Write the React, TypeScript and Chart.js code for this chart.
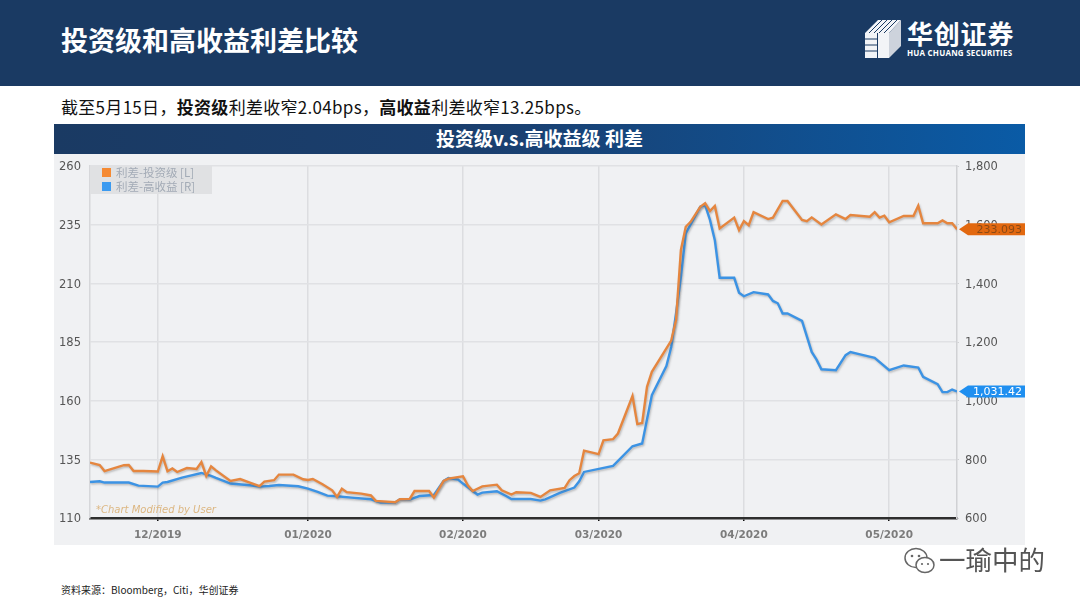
import React, { useEffect, useRef } from 'react';
import { Chart, registerables } from 'chart.js';

Chart.register(...registerables);

// x is calendar days since 2019-11-18
const tickDays = [14, 45, 77, 105, 135, 165];
const tickLabels = ['12/2019', '01/2020', '02/2020', '03/2020', '04/2020', '05/2020'];

const igDays = [0, 2, 3, 4, 7, 8, 9, 11, 14, 15, 16, 17, 18, 20, 22, 23, 24, 25, 26, 29, 31, 33, 35, 36, 38, 39, 42, 44, 45, 46, 48, 50, 51, 52, 53, 56, 58, 59, 63, 64, 66, 67, 70, 71, 73, 74, 77, 78, 79, 81, 84, 85, 87, 88, 91, 93, 95, 98, 99, 100, 101, 102, 105, 106, 108, 109, 112, 113, 114, 115, 116, 120, 121, 122, 123, 124, 126, 127, 128, 129, 130, 133, 134, 135, 136, 137, 140, 141, 143, 144, 147, 148, 149, 151, 154, 156, 157, 161, 162, 163, 164, 165, 168, 170, 171, 172, 175, 176, 177, 178, 179];
const igValues = [133.6, 132.6, 130.0, 130.6, 132.5, 132.6, 130.0, 130.0, 129.8, 136.3, 129.9, 131.1, 129.6, 131.3, 130.9, 133.8, 127.9, 132.0, 130.3, 125.8, 126.6, 125.1, 123.6, 125.5, 126.1, 128.5, 128.5, 126.5, 126.2, 126.6, 124.4, 121.8, 119.0, 122.5, 121.0, 120.4, 119.6, 117.3, 116.7, 118.0, 118.1, 121.5, 121.5, 118.7, 125.8, 126.8, 127.8, 123.9, 121.5, 123.5, 124.2, 121.8, 120.0, 121.0, 120.7, 119.0, 121.8, 122.8, 126.1, 127.9, 129.1, 138.7, 137.2, 143.1, 143.6, 146.0, 162.0, 150.0, 150.5, 165.9, 172.3, 185.6, 194.5, 224.2, 234.1, 236.2, 242.6, 244.1, 240.8, 243.0, 233.4, 238.0, 232.7, 236.5, 234.8, 240.3, 237.4, 238.0, 245.1, 245.1, 237.0, 236.5, 238.1, 235.1, 239.4, 237.4, 239.1, 238.4, 240.3, 238.0, 238.8, 236.0, 238.7, 238.7, 243.1, 235.6, 235.6, 236.8, 235.6, 235.6, 233.093];

const hyDays = [0, 2, 3, 8, 10, 14, 15, 16, 19, 23, 25, 26, 29, 33, 35, 37, 39, 43, 45, 47, 49, 51, 54, 58, 60, 63, 64, 66, 68, 71, 73, 74, 76, 77, 80, 81, 84, 86, 87, 91, 93, 94, 97, 100, 101, 102, 108, 112, 114, 116, 119, 120, 121, 122, 123, 126, 127, 128, 129, 130, 133, 134, 135, 137, 140, 141, 142, 143, 144, 147, 149, 150, 151, 154, 156, 157, 159, 162, 165, 168, 171, 172, 175, 176, 177, 178, 179];
const hyValues = [722.8, 725.2, 720.8, 720.8, 710.5, 707.1, 720.8, 722.8, 737.8, 753.5, 743.3, 736.5, 717.4, 711.6, 707.1, 709.2, 712.6, 708.2, 700.3, 688.7, 676.4, 674, 669.6, 663.8, 652.5, 652.5, 663.8, 662.8, 675, 678.5, 726.2, 736.5, 731, 717.4, 680, 686.7, 691, 674, 664.8, 664.8, 659.4, 663.8, 685.3, 703.7, 725, 757, 777.4, 844.6, 853.9, 1018.7, 1118, 1183, 1298, 1422, 1570, 1661, 1667, 1616, 1547, 1419, 1419, 1368, 1356, 1370, 1362, 1340, 1332, 1297, 1297, 1272, 1166, 1140, 1107, 1104, 1155, 1166, 1158, 1146, 1104, 1120, 1113, 1081, 1056, 1029, 1029, 1038, 1031.42];

const igLast = '233.093';
const hyLast = '1,031.42';

const ORANGE = '#e5863f';
const BLUE = '#3c93e4';
const AXIS_FONT = '"DejaVu Sans", sans-serif';
const CJK = '"Noto Sans CJK SC", sans-serif';

// page colour, legend box, soft line shadow, value tags on the right, watermark text
const decorations = {
  id: 'decorations',
  beforeDraw(chart: any) {
    const { ctx } = chart;
    ctx.save();
    ctx.fillStyle = '#f0f1f3';
    ctx.fillRect(0, 0, chart.width, chart.height);
    ctx.restore();
  },
  beforeDatasetsDraw(chart: any) {
    const { ctx, chartArea: a } = chart;
    ctx.save();
    ctx.fillStyle = '#e0e1e3';
    ctx.fillRect(a.left, a.top, 122, 28);
    ctx.font = '11.5px ' + CJK;
    ctx.textBaseline = 'middle';
    chart.data.datasets.forEach((ds: any, i: number) => {
      const y = a.top + 6.5 + i * 14;
      ctx.fillStyle = ds.backgroundColor;
      ctx.fillRect(a.left + 12, y - 4.5, 9, 9);
      ctx.fillStyle = '#a3abb6';
      ctx.fillText(ds.label, a.left + 26, y);
    });
    ctx.font = 'italic 10px ' + AXIS_FONT;
    ctx.fillStyle = '#dcb680';
    ctx.textBaseline = 'alphabetic';
    ctx.fillText('*Chart Modified by User', a.left + 6, a.bottom - 5);
    ctx.restore();
  },
  beforeDatasetDraw(chart: any) {
    const { ctx } = chart;
    ctx.save();
    ctx.shadowColor = 'rgba(90,90,90,0.35)';
    ctx.shadowBlur = 2;
    ctx.shadowOffsetX = 1;
    ctx.shadowOffsetY = 1.5;
  },
  afterDatasetDraw(chart: any) {
    chart.ctx.restore();
  },
  afterDraw(chart: any) {
    const { ctx, chartArea: a, scales } = chart;
    const tag = (y: number, text: string, fill: string, color: string) => {
      const x0 = a.right + 2;
      const xArrow = x0 + 9;
      const h = 6;
      ctx.save();
      ctx.fillStyle = fill;
      ctx.beginPath();
      ctx.moveTo(x0, y);
      ctx.lineTo(xArrow, y - h);
      ctx.lineTo(chart.width, y - h);
      ctx.lineTo(chart.width, y + h);
      ctx.lineTo(xArrow, y + h);
      ctx.closePath();
      ctx.fill();
      ctx.fillStyle = color;
      ctx.font = '11px ' + AXIS_FONT;
      ctx.textAlign = 'right';
      ctx.textBaseline = 'middle';
      ctx.fillText(text, chart.width - 3, y + 0.5);
      ctx.restore();
    };
    tag(scales.y.getPixelForValue(igValues[igValues.length - 1]), igLast, '#e2680f', '#8c4a14');
    tag(scales.y1.getPixelForValue(hyValues[hyValues.length - 1]), hyLast, '#1f8ff0', '#ffffff');
  },
};

function LineChart() {
  const canvasRef = useRef<HTMLCanvasElement>(null);

  useEffect(() => {
    if (!canvasRef.current) return;
    const chart = new Chart(canvasRef.current, {
      type: 'line',
      data: {
        datasets: [
          {
            label: '利差-投资级 [L]',
            data: igDays.map((d, i) => ({ x: d, y: igValues[i] })),
            borderColor: ORANGE,
            backgroundColor: '#f58a33',
            borderWidth: 2.4,
            pointRadius: 0,
            yAxisID: 'y',
          },
          {
            label: '利差-高收益 [R]',
            data: hyDays.map((d, i) => ({ x: d, y: hyValues[i] })),
            borderColor: BLUE,
            backgroundColor: '#3b9af0',
            borderWidth: 2.4,
            pointRadius: 0,
            yAxisID: 'y1',
          },
        ],
      },
      options: {
        animation: false,
        responsive: false,
        devicePixelRatio: 1,
        layout: { padding: { top: 12, left: 0, right: 0, bottom: 0 } },
        plugins: {
          tooltip: { enabled: false },
          legend: { display: false },
        },
        scales: {
          x: {
            type: 'linear',
            min: 0,
            max: 179,
            afterBuildTicks: (axis: any) => {
              axis.ticks = tickDays.map((v) => ({ value: v }));
            },
            afterFit: (axis: any) => {
              axis.height = 27;
            },
            border: { color: '#2e2e2e', width: 2.5 },
            grid: { color: '#dcdde0', tickColor: '#111', tickLength: 3, lineWidth: 1.5 },
            ticks: {
              autoSkip: false,
              maxRotation: 0,
              padding: 8,
              color: '#7c7c7c',
              font: { family: AXIS_FONT, size: 10.5, weight: 'bold' },
              callback: (v: any) => tickLabels[tickDays.indexOf(v)],
            },
          },
          y: {
            position: 'left',
            min: 110,
            max: 260,
            afterBuildTicks: (axis: any) => {
              axis.ticks = [110, 135, 160, 185, 210, 235, 260].map((v) => ({ value: v }));
            },
            afterFit: (axis: any) => {
              axis.width = 36;
              axis.paddingTop = 0;
              axis.paddingBottom = 0;
            },
            border: { color: '#d6d7da', width: 1.5 },
            grid: { color: '#e0e1e4', lineWidth: 1.5, drawTicks: false },
            ticks: {
              padding: 9,
              labelOffset: 1.5,
              color: '#555',
              font: { family: AXIS_FONT, size: 11.5 },
            },
          },
          y1: {
            position: 'right',
            min: 600,
            max: 1800,
            afterBuildTicks: (axis: any) => {
              axis.ticks = [600, 800, 1000, 1200, 1400, 1600, 1800].map((v) => ({ value: v }));
            },
            afterFit: (axis: any) => {
              axis.width = 68;
              axis.paddingTop = 0;
              axis.paddingBottom = 0;
            },
            border: { color: '#d0d1d4', width: 1.5 },
            grid: { drawOnChartArea: false, tickColor: '#d0d1d4', tickLength: 2 },
            ticks: {
              padding: 6,
              labelOffset: 1.5,
              color: '#555',
              font: { family: AXIS_FONT, size: 11.5 },
              callback: (v: any) => Number(v).toLocaleString('en-US'),
            },
          },
        },
      },
      plugins: [decorations],
    } as any);
    return () => chart.destroy();
  }, []);

  return (
    <canvas
      ref={canvasRef}
      width={971}
      height={391}
      style={{ position: 'absolute', left: 54, top: 154, width: 971, height: 391 }}
    />
  );
}

const abs = (s: React.CSSProperties): React.CSSProperties => ({ position: 'absolute', whiteSpace: 'nowrap', ...s });

export default function App() {
  useEffect(() => {
    document.body.style.margin = '0';
    document.body.style.background = '#fff';
  }, []);

  return (
    <div style={{ position: 'relative', width: 1080, height: 608, overflow: 'hidden', fontFamily: CJK, background: '#fff' }}>
      <div style={abs({ left: 0, top: 0, width: 1080, height: 86, background: '#1a3a63' })} />
      <div style={abs({ left: 61, top: 21, fontSize: 27, lineHeight: '38px', fontWeight: 700, color: '#fff' })}>
        投资级和高收益利差比较
      </div>

      <svg style={abs({ left: 864, top: 19, width: 38, height: 40 })} viewBox="0 0 38 40">
        <polygon points="1,14 14,1 37,1 25,14 25,39 1,39" fill="#f2f4f7" />
        <g stroke="#1a3a63" strokeWidth="1">
          <line x1="5" y1="14" x2="18" y2="1" />
          <line x1="10" y1="14" x2="23" y2="1" />
          <line x1="15" y1="14" x2="28" y2="1" />
          <line x1="20" y1="14" x2="33" y2="1" />
          <line x1="1" y1="20" x2="13" y2="20" />
          <line x1="1" y1="26" x2="13" y2="26" />
          <line x1="1" y1="32" x2="13" y2="32" />
          <line x1="13.5" y1="14" x2="13.5" y2="39" />
        </g>
        <polygon points="25,14 37,1 37,27 25,39" fill="#cdd3dc" />
      </svg>
      <div style={abs({ left: 907, top: 16, fontSize: 26, lineHeight: '34px', fontWeight: 700, color: '#fff', letterSpacing: 0.8 })}>
        华创证券
      </div>
      <div style={abs({ left: 907, top: 47, fontSize: 8, lineHeight: '11px', fontWeight: 700, color: '#fff', fontFamily: '"Open Sans", sans-serif', letterSpacing: 0.2 })}>
        HUA CHUANG SECURITIES
      </div>

      <div style={abs({ left: 61, top: 95, fontSize: 17, lineHeight: '24px', color: '#111', letterSpacing: 0.3 })}>
        截至5月15日，<b>投资级</b>利差收窄2.04bps，<b>高收益</b>利差收窄13.25bps。
      </div>

      <div
        style={abs({
          left: 54,
          top: 124,
          width: 971,
          height: 30,
          background: 'linear-gradient(90deg, #1a3a63 0%, #1a3f6f 45%, #0a5ba6 100%)',
          color: '#fff',
          fontSize: 19,
          fontWeight: 700,
          lineHeight: '28px',
          textAlign: 'center',
        })}
      >
        投资级v.s.高收益级 利差
      </div>

      <LineChart />

      <div style={abs({ left: 61, top: 583, fontSize: 10, lineHeight: '14px', color: '#222' })}>
        资料来源：Bloomberg，Citi，华创证券
      </div>

      <svg style={abs({ left: 903, top: 545, width: 34, height: 32 })} viewBox="0 0 34 32">
        <ellipse cx="13" cy="13" rx="11" ry="9.5" fill="none" stroke="#666" strokeWidth="1.5" />
        <ellipse cx="22" cy="20" rx="9" ry="7.5" fill="#fff" stroke="#666" strokeWidth="1.5" />
        <circle cx="9" cy="11" r="1.3" fill="#666" />
        <circle cx="16" cy="11" r="1.3" fill="#666" />
        <circle cx="19" cy="19" r="1.1" fill="#666" />
        <circle cx="25" cy="19" r="1.1" fill="#666" />
      </svg>
      <div style={abs({ left: 939, top: 542, fontSize: 26.5, lineHeight: '34px', color: '#555' })}>一瑜中的</div>
    </div>
  );
}
